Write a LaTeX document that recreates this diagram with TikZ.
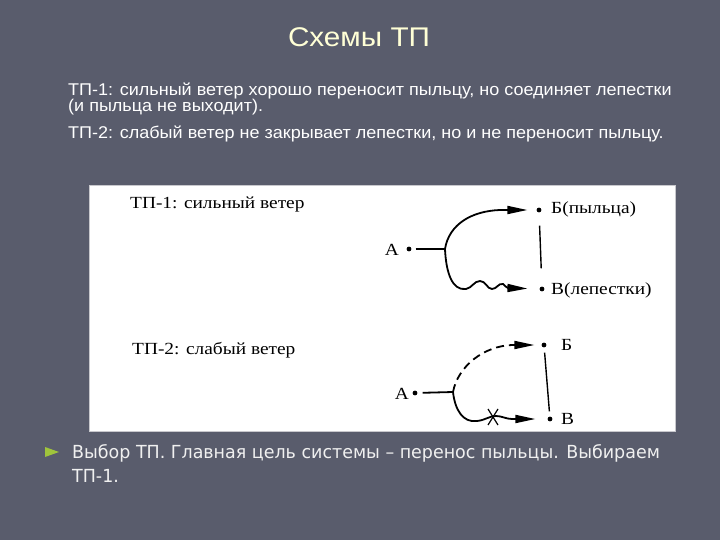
\documentclass[tikz,border=0pt]{standalone}
\usepackage{fontspec}
\setmainfont{Liberation Sans}
\newfontfamily\titlefont[FakeStretch=1.1]{Liberation Sans}
\newfontfamily\bodyfont[FakeStretch=1.06]{Liberation Sans}
\newfontfamily\notefont[FakeStretch=0.97]{DejaVu Sans}
\newfontfamily\scanfont[FakeStretch=1.14]{Liberation Serif}
\usetikzlibrary{arrows.meta,positioning}

\definecolor{slidebg}{RGB}{89,92,108}
\definecolor{titleyellow}{RGB}{255,255,214}
\definecolor{bulletgreen}{RGB}{160,196,60}
\definecolor{panelline}{RGB}{200,200,205}

\tikzset{
  dot/.style={circle, fill=black, inner sep=1.7pt},
  scan/.style={font=\scanfont\fontsize{17}{19}\selectfont, inner sep=0pt, anchor=base west},
  wire/.style={line width=1.8pt},
  flow/.style={wire, -{Triangle[length=20pt,width=8pt]}},
  bodytext/.style={font=\bodyfont\fontsize{17}{19}\selectfont, text=white, inner sep=0pt, anchor=base west},
  notetext/.style={font=\notefont\fontsize{18}{20}\selectfont, text=white!94!black, inner sep=0pt, anchor=base west}
}

\begin{document}
\begin{tikzpicture}[x=1pt,y=-1pt]
        % Slide background
        \fill[slidebg] (0,0) rectangle (720,540);
        \useasboundingbox (0,0) rectangle (720,540);

        % Title and text
        \node[font=\titlefont\fontsize{27}{30}\selectfont, text=titleyellow, inner sep=0pt, anchor=base] (title) at (359,47) {Схемы ТП};
        \node[bodytext] (tp1text) at (68,96) {ТП-1: сильный ветер хорошо переносит пыльцу, но соединяет лепестки};
        \node[bodytext] (tp1more) at (68,112) {(и пыльца не выходит).};
        \node[bodytext] (tp2text) at (68,139) {ТП-2: слабый ветер не закрывает лепестки, но и не переносит пыльцу.};

        % Scanned panel
        \filldraw[fill=white, draw=panelline, line width=0.8pt] (89,185) rectangle (675,431);

        % TP-1
        \node[scan] (tp1) at (130,208) {ТП-1: сильный ветер};
        \node[dot] (a1) at (409,249) {};
        \node[dot] (b1) at (539,210) {};
        \node[dot] (v1) at (542,289) {};
        \node[scan, anchor=base east] (a1lbl) at (399,255) {А};
        \node[scan] (b1lbl) at (551,214) {Б(пыльца)};
        \node[scan] (v1lbl) at (551,294) {В(лепестки)};
        \coordinate (j1) at (445,249);
        \draw[wire, shorten <=4pt] (a1) -- (j1);
        \draw[flow, shorten >=9pt] (j1) .. controls (449,224) and (472,211) .. (500,210) -- (b1);
        \draw[flow, shorten >=12pt] (j1) .. controls (446,272) and (452,291) .. (466,289)
          .. controls (472,288) and (474,281) .. (480,281)
          .. controls (486,281) and (487,289) .. (492,289)
          .. controls (497,289) and (498,283) .. (503,284)
          .. controls (505,285) and (506,288) .. (508,288) -- (v1);
        \draw[wire, line width=1.4pt, shorten <=13pt, shorten >=18pt] (b1) -- (v1);

        % TP-2
        \node[scan] (tp2) at (132,354) {ТП-2: слабый ветер};
        \node[dot] (a2) at (415,393) {};
        \node[dot] (b2) at (544,345) {};
        \node[dot] (v2) at (550,419) {};
        \node[scan, anchor=base east] (a2lbl) at (409,399) {А};
        \node[scan] (b2lbl) at (561,350) {Б};
        \node[scan] (v2lbl) at (561,424) {В};
        \coordinate (j2) at (453,392);
        \draw[wire, shorten <=5pt] (a2) -- (j2);
        \draw[flow, dash pattern=on 8pt off 5pt, shorten >=7pt] (j2) .. controls (458,366) and (484,346) .. (512,345) -- (b2);
        \draw[flow, shorten >=12pt] (j2) .. controls (455,410) and (463,423) .. (477,421)
          .. controls (486,420) and (489,416) .. (496,416)
          .. controls (502,416) and (506,419) .. (512,419) -- (v2);
        \coordinate (cross) at (493,417);
        \draw[line width=1.2pt] ([shift={(-5,-8)}]cross) -- ([shift={(5,8)}]cross);
        \draw[line width=1.2pt] ([shift={(5,-8)}]cross) -- ([shift={(-5,8)}]cross);
        \draw[wire, line width=1.4pt, shorten <=5pt, shorten >=5pt] (b2) -- (v2);

        % Conclusion
        \fill[bulletgreen] (45,447) -- (59,452) -- (45,457) -- cycle;
        \node[notetext] (choice) at (72,458) {Выбор ТП. Главная цель системы – перенос пыльцы. Выбираем};
        \node[notetext] (choice2) at (72,482) {ТП-1.};
\end{tikzpicture}
\end{document}
